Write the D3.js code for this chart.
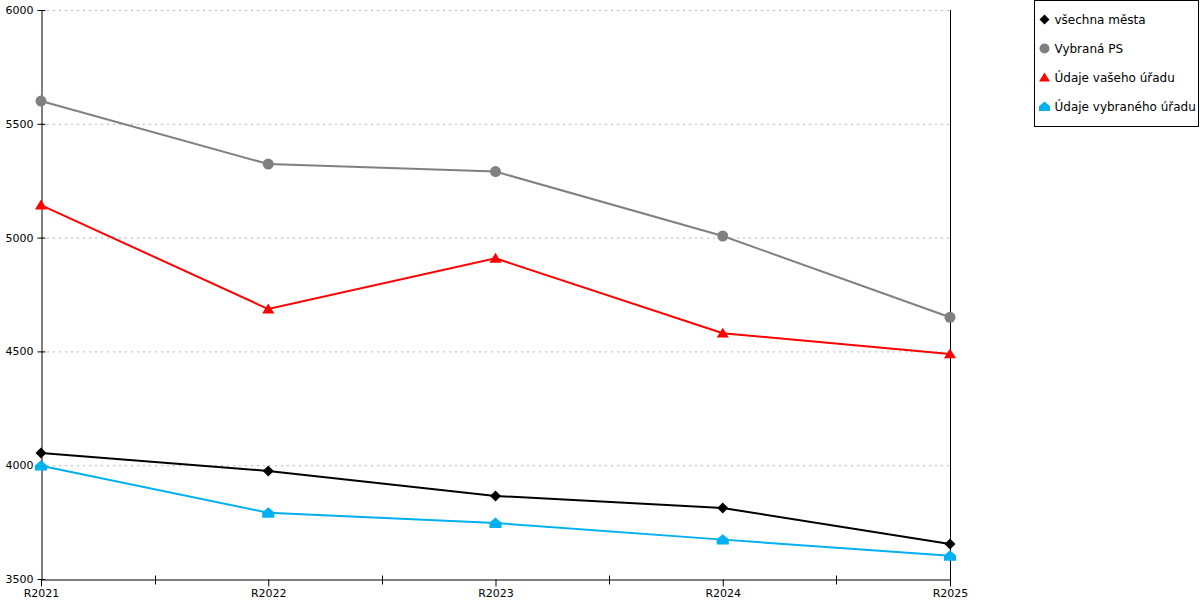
<!DOCTYPE html>
<html>
<head>
<meta charset="utf-8">
<script src="https://cdn.jsdelivr.net/npm/d3@7"></script>
<style>
  body { margin: 0; background: #fff; }
  text { font-family: "DejaVu Sans", Verdana, sans-serif; }
</style>
</head>
<body>
<svg id="chart" width="1200" height="600"></svg>
<script>
// data
const years = ["R2021", "R2022", "R2023", "R2024", "R2025"];
const vsechnaMesta = [4054, 3975, 3865, 3812, 3654];
const vybranaPS = [5600, 5323, 5290, 5007, 4650];
const vasUrad = [5143, 4686, 4909, 4580, 4489];
const vybranyUrad = [3998, 3791, 3746, 3673, 3602];
const yTicks = [3500, 4000, 4500, 5000, 5500, 6000];

const series = [
  { name: "všechna města", values: vsechnaMesta, color: "#000000", marker: "diamond" },
  { name: "Vybraná PS", values: vybranaPS, color: "#808080", marker: "circle" },
  { name: "Údaje vašeho úřadu", values: vasUrad, color: "#ff0000", marker: "triangle" },
  { name: "Údaje vybraného úřadu", values: vybranyUrad, color: "#00b0f0", marker: "house" }
];

const svg = d3.select("#chart");
const plotLeft = 41, plotRight = 950, plotTop = 10, plotBottom = 579;

const x = d3.scalePoint()
  .domain(years)
  .range([plotLeft, plotRight]);

const y = d3.scaleLinear()
  .domain([3500, 6000])
  .range([plotBottom, plotTop]);

// grid lines
svg.append("g")
  .selectAll("line")
  .data(yTicks.slice(1))
  .join("line")
  .attr("x1", plotLeft)
  .attr("x2", plotRight)
  .attr("y1", d => y(d) + 0.5)
  .attr("y2", d => y(d) + 0.5)
  .attr("stroke", "#b4b4b4")
  .attr("stroke-dasharray", "2,4");

// y axis
const yAxis = d3.axisLeft(y)
  .tickValues(yTicks)
  .tickSize(4)
  .tickSizeOuter(0)
  .tickPadding(4)
  .tickFormat(d3.format("d"));

const yAxisGroup = svg.append("g")
  .attr("transform", `translate(${plotLeft + 0.5},0)`)
  .call(yAxis);
yAxisGroup.selectAll(".tick line").attr("x1", 4);

// right border line
svg.append("line")
  .attr("x1", plotRight + 0.5).attr("x2", plotRight + 0.5)
  .attr("y1", plotTop).attr("y2", plotBottom + 7)
  .attr("stroke", "#000");

// x axis
const xAxis = d3.axisBottom(x)
  .tickSize(7)
  .tickSizeOuter(0)
  .tickPadding(3);

const xAxisGroup = svg.append("g")
  .attr("transform", `translate(0,${plotBottom + 0.5})`)
  .call(xAxis);

// minor ticks between categories
const mids = years.slice(1).map((d, i) => (x(years[i]) + x(d)) / 2);
xAxisGroup.append("g")
  .selectAll("line")
  .data(mids)
  .join("line")
  .attr("x1", d => Math.round(d) + 0.5)
  .attr("x2", d => Math.round(d) + 0.5)
  .attr("y1", -4)
  .attr("y2", 5)
  .attr("stroke", "#000");

svg.selectAll(".tick text")
  .attr("font-size", 11)
  .attr("fill", "#000");

// marker shapes
function markerPath(type, s) {
  if (type === "diamond") return `M0,${-s}L${s},0L0,${s}L${-s},0Z`;
  if (type === "triangle") return `M0,${-s}L${s * 1.1},${s * 0.8}L${-s * 1.1},${s * 0.8}Z`;
  if (type === "house") return `M0,${-s}L${s * 1.1},${-s * 0.05}L${s * 1.1},${s * 0.9}L${-s * 1.1},${s * 0.9}L${-s * 1.1},${-s * 0.05}Z`;
  return null;
}

const line = d3.line()
  .x((d, i) => x(years[i]))
  .y(d => y(d));

const plot = svg.append("g");

// draw from back to front: gray, red, black, blue
[1, 2, 0, 3].forEach(k => {
  const s = series[k];
  plot.append("path")
    .datum(s.values)
    .attr("fill", "none")
    .attr("stroke", s.color)
    .attr("stroke-width", 2)
    .attr("d", line);

  const g = plot.append("g");
  s.values.forEach((v, i) => {
    const cx = x(years[i]), cy = y(v);
    if (s.marker === "circle") {
      g.append("circle").attr("cx", cx).attr("cy", cy).attr("r", 5.5).attr("fill", s.color);
    } else {
      g.append("path")
        .attr("transform", `translate(${cx},${cy})`)
        .attr("d", markerPath(s.marker, 5.5))
        .attr("fill", s.color);
    }
  });
});

// legend
const legend = svg.append("g").attr("transform", "translate(1034.5,0.5)");
legend.append("rect")
  .attr("width", 164)
  .attr("height", 126)
  .attr("fill", "#fff")
  .attr("stroke", "#000");

series.forEach((s, i) => {
  const row = legend.append("g").attr("transform", `translate(10,${19 + i * 29})`);
  if (s.marker === "circle") {
    row.append("circle").attr("r", 5).attr("fill", s.color);
  } else {
    row.append("path").attr("d", markerPath(s.marker, 5)).attr("fill", s.color);
  }
  row.append("text")
    .attr("x", 10)
    .attr("dy", "0.35em")
    .attr("font-size", 12)
    .attr("fill", "#000")
    .text(s.name);
});
</script>
</body>
</html>
